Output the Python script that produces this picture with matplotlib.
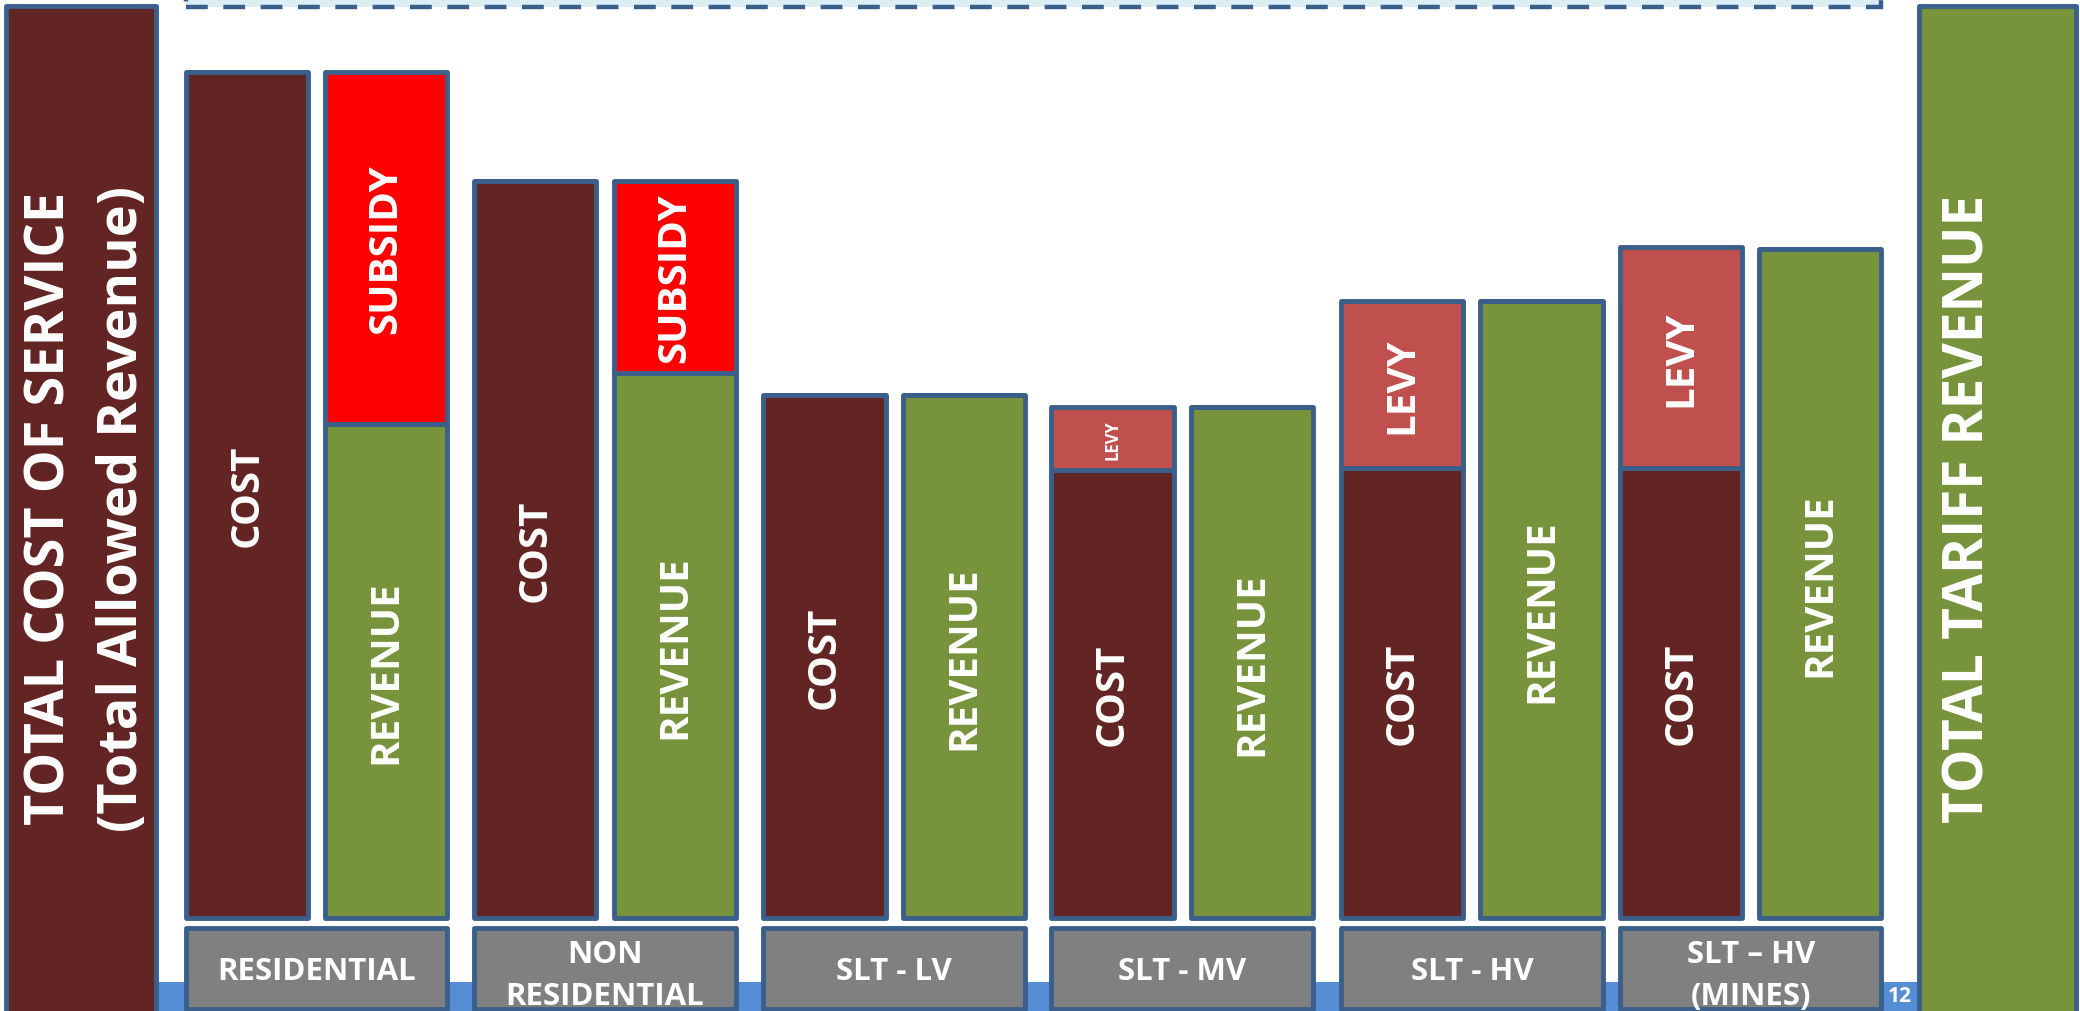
import numpy as np
import matplotlib.pyplot as plt
from matplotlib.patches import Rectangle

plt.rcParams['font.family'] = ['Open Sans', 'DejaVu Sans']
plt.rcParams['font.weight'] = 'bold'

# values (total bars = 100)
categories = ['RESIDENTIAL', 'NON\nRESIDENTIAL', 'SLT - LV', 'SLT - MV', 'SLT - HV', 'SLT \u2013 HV\n(MINES)']
cost = [92.7, 80.8, 57.3, 49.1, 49.3, 49.3]
levy = [0, 0, 0, 6.9, 18.3, 24.2]
revenue = [54.2, 59.7, 57.3, 56.0, 67.6, 73.3]
subsidy = [38.5, 21.1, 0, 0, 0, 0]
total_cost = 100
total_revenue = 100

cost_col = '#632523'
rev_col = '#77933C'
sub_col = '#FF0000'
levy_col = '#C0504D'
edge = '#3A5F8B'
grey = '#808080'
band = '#558ED5'

cost = np.array(cost)
levy = np.array(levy)
revenue = np.array(revenue)
subsidy = np.array(subsidy)

fig = plt.figure(figsize=(20.8, 10.12), dpi=100)
ax = fig.add_axes([0, 0, 1, 1])
ax.set_xlim(-1.104, 6.154)
ax.set_ylim(-10.17, 100.73)
ax.axis('off')

# group centres on the slide (slightly uneven spacing)
x = np.array([0, 1.007, 2.016, 3.021, 4.032, 5.005])
off = 0.243
w = 0.426
lw = 3.5
bkw = dict(edgecolor=edge, linewidth=lw, joinstyle='round')

# blue strip at the foot of the slide
left_x, left_w = -0.82, 0.523
right_x, right_w = 5.866, 0.55
ax.add_patch(Rectangle((left_x + left_w / 2, -11), right_x - right_w / 2 - left_x - left_w / 2, 4.0,
                       facecolor=band, edgecolor='none', zorder=0))
ax.text(5.525, -8.5, '12', color='white', fontsize=15, ha='center', va='center')

# dashed title box, mostly off the top of the slide
ax.add_patch(Rectangle((x[0] - off - w / 2, 99.9), x[-1] - x[0] + 2 * off + w, 10, facecolor='#DCEEF5',
                       edgecolor=edge, linewidth=3.2, linestyle=(0, (4.9, 3.5)), zorder=1))

# totals
ax.bar(left_x, total_cost + 11, bottom=-11, width=left_w, color=cost_col, **bkw)
ax.bar(right_x, total_revenue + 11, bottom=-11, width=right_w, color=rev_col, **bkw)
ax.text(left_x + 0.02, 45, 'TOTAL COST OF SERVICE\n(Total Allowed Revenue)', rotation=90, color='white',
        fontsize=39, ha='center', va='center', linespacing=1.45)
ax.text(right_x - 0.1, 45, 'TOTAL TARIFF REVENUE', rotation=90, color='white',
        fontsize=39.5, ha='center', va='center')

# cost side
ax.bar(x - off, cost, width=w, color=cost_col, **bkw)
ax.bar(x - off, levy, bottom=cost, width=w, color=levy_col, **bkw)
# revenue side
ax.bar(x + off, revenue, width=w, color=rev_col, **bkw)
ax.bar(x + off, subsidy, bottom=revenue, width=w, color=sub_col, **bkw)

tk = dict(rotation=90, color='white', ha='center', va='center')
for i, xi in enumerate(x):
    ax.text(xi - off, cost[i] / 2, 'COST', fontsize=29, **tk)
    ax.text(xi + off, revenue[i] / 2, 'REVENUE', fontsize=29, **tk)
    if levy[i] > 0:
        ax.text(xi - off, cost[i] + levy[i] / 2, 'LEVY', fontsize=29 if levy[i] > 10 else 12, **tk)
    if subsidy[i] > 0:
        ax.text(xi + off, revenue[i] + subsidy[i] / 2, 'SUBSIDY', fontsize=29, **tk)

# category boxes
ax.bar(x, 8.8, bottom=-9.9, width=0.912, color=grey, **bkw)
for i, c in enumerate(categories):
    yc = -6.2 if '\n' in c else -5.8
    ax.text(x[i], yc, c, color='white', fontsize=22.5, ha='center', va='center', linespacing=1.5)

fig.savefig('out.png', dpi=100)
